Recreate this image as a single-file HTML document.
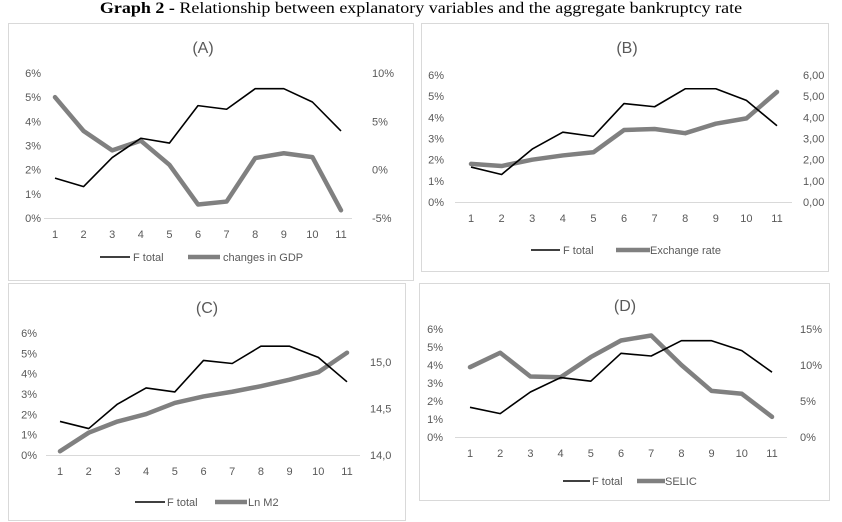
<!DOCTYPE html>
<html><head><meta charset="utf-8"><style>
body{margin:0;background:#fff;width:842px;height:522px;overflow:hidden;position:relative;font-family:"Liberation Sans",sans-serif}
#title{position:absolute;left:0;top:-2px;width:842px;text-align:center;font-family:"Liberation Serif",serif;font-size:18px;color:#000;white-space:nowrap;transform:scaleY(0.85)}
svg{position:absolute;left:0;top:0}
</style></head><body>
<div id="title"><b>Graph 2 -</b> Relationship between explanatory variables and the aggregate bankruptcy rate</div>
<svg id="svg" width="842" height="522"></svg>
<script>
const categories=[1,2,3,4,5,6,7,8,9,10,11];
const fTotal=[1.65,1.3,2.5,3.3,3.1,4.65,4.5,5.35,5.35,4.8,3.6];
const gdpChange=[7.5,4,2,3,0.5,-3.6,-3.3,1.2,1.7,1.3,-4.2];
const exchangeRate=[1.8,1.7,2.0,2.2,2.35,3.4,3.45,3.25,3.7,3.95,5.2];
const lnM2=[14.04,14.24,14.36,14.44,14.56,14.63,14.68,14.74,14.81,14.89,15.10];
const selic=[9.7,11.7,8.4,8.3,11.1,13.4,14.1,10.0,6.4,6.0,2.8];
const leftTicks=[0,1,2,3,4,5,6];
const leftTickLabels=["0%","1%","2%","3%","4%","5%","6%"];
const gdpTicks=[-5,0,5,10];
const gdpTickLabels=["-5%","0%","5%","10%"];
const exTicks=[0,1,2,3,4,5,6];
const exTickLabels=["0,00","1,00","2,00","3,00","4,00","5,00","6,00"];
const m2Ticks=[14,14.5,15];
const m2TickLabels=["14,0","14,5","15,0"];
const selicTicks=[0,5,10,15];
const selicTickLabels=["0%","5%","10%","15%"];

const svg=document.getElementById('svg');
const NS='http://www.w3.org/2000/svg';
function mk(tag,at,parent){const e=document.createElementNS(NS,tag);for(const k in at)e.setAttribute(k,at[k]);(parent||svg).appendChild(e);return e;}
function txt(x,y,s,anchor,size,parent){const t=mk('text',{x:x,y:y,'text-anchor':anchor,'font-size':size,fill:'#595959','font-family':'Liberation Sans, sans-serif'},parent);t.textContent=s;return t;}

const panels=[
 {id:'a',label:'(A)',frame:[8,23,405,257],tx:203,ty:53,x1:55,x11:341,y0:218,yTop:73,axL:44,axR:352,rMin:-5,rMax:10,rTicks:gdpTicks,rLabels:gdpTickLabels,rX:372,lX:41,series:gdpChange,name:'changes in GDP',leg:[100,130,133,188,220,223],legY:257},
 {id:'b',label:'(B)',frame:[421,23,407,248],tx:627,ty:53,x1:471,x11:777,y0:202,yTop:75,axL:455,axR:792,rMin:0,rMax:6,rTicks:exTicks,rLabels:exTickLabels,rX:803,lX:444,series:exchangeRate,name:'Exchange rate',leg:[531,560,563,616,650,650],legY:250},
 {id:'c',label:'(C)',frame:[8,283,397,237],tx:207,ty:313,x1:60,x11:347,y0:455,yTop:333,axL:46,axR:360,rMin:14,rMax:14+122/93,rTicks:m2Ticks,rLabels:m2TickLabels,rX:370,lX:37,series:lnM2,name:'Ln M2',leg:[135,165,167,215,247,248],legY:502},
 {id:'d',label:'(D)',frame:[419,283,410,217],tx:625,ty:311,x1:470,x11:772,y0:437,yTop:329,axL:455,axR:787,rMin:0,rMax:15,rTicks:selicTicks,rLabels:selicTickLabels,rX:800,lX:443,series:selic,name:'SELIC',leg:[563,590,592,637,665,665],legY:481}
];
panels.forEach(p=>{
 const g=mk('g',{});
 
 
 const fr=mk('rect',{x:p.frame[0]+0.5,y:p.frame[1]+0.5,width:p.frame[2],height:p.frame[3],fill:'#fff',stroke:'#d9d9d9'},g);
 
 
 const tt=txt(p.tx,p.ty,p.label,'middle',16,g);
 
 
 const xs=i=>p.x1+(p.x11-p.x1)*i/(categories.length-1);
 const yl=v=>p.y0-(p.y0-p.yTop)*v/6;
 const yr=v=>p.y0-(p.y0-p.yTop)*(v-p.rMin)/(p.rMax-p.rMin);
 const ax=mk('line',{x1:p.axL,x2:p.axR,y1:p.y0+0.5,y2:p.y0+0.5,stroke:'#d9d9d9','stroke-width':1},g);
 
 
 leftTicks.forEach((v,i)=>{const t=txt(p.lX,yl(v)+4,leftTickLabels[i],'end',11,g);
  
  });
 p.rTicks.forEach((v,i)=>{const t=txt(p.rX,yr(v)+4,p.rLabels[i],'start',11,g);
  
  });
 categories.forEach((c,i)=>{const t=txt(xs(i),p.y0+20,String(c),'middle',11,g);
  
  });
 const s2=mk('polyline',{points:p.series.map((v,i)=>xs(i)+','+yr(v)).join(' '),fill:'none',stroke:'#808080','stroke-width':4.5,'stroke-linejoin':'round','stroke-linecap':'round'},g);
 
 
 const s1=mk('polyline',{points:fTotal.map((v,i)=>xs(i)+','+yl(v)).join(' '),fill:'none',stroke:'#000','stroke-width':1.6,'stroke-linejoin':'round'},g);
 
 
 const L=p.leg,ly=p.legY;
 const l1=mk('line',{x1:L[0],x2:L[1],y1:ly,y2:ly,stroke:'#000','stroke-width':1.6},g);
 
 
 const t1=txt(L[2],ly+4,'F total','start',11,g);
 
 
 const l2=mk('line',{x1:L[3],x2:L[4],y1:ly,y2:ly,stroke:'#808080','stroke-width':4.5},g);
 
 
 const t2=txt(L[5],ly+4,p.name,'start',11,g);
 
 
});
</script>
</body></html>
